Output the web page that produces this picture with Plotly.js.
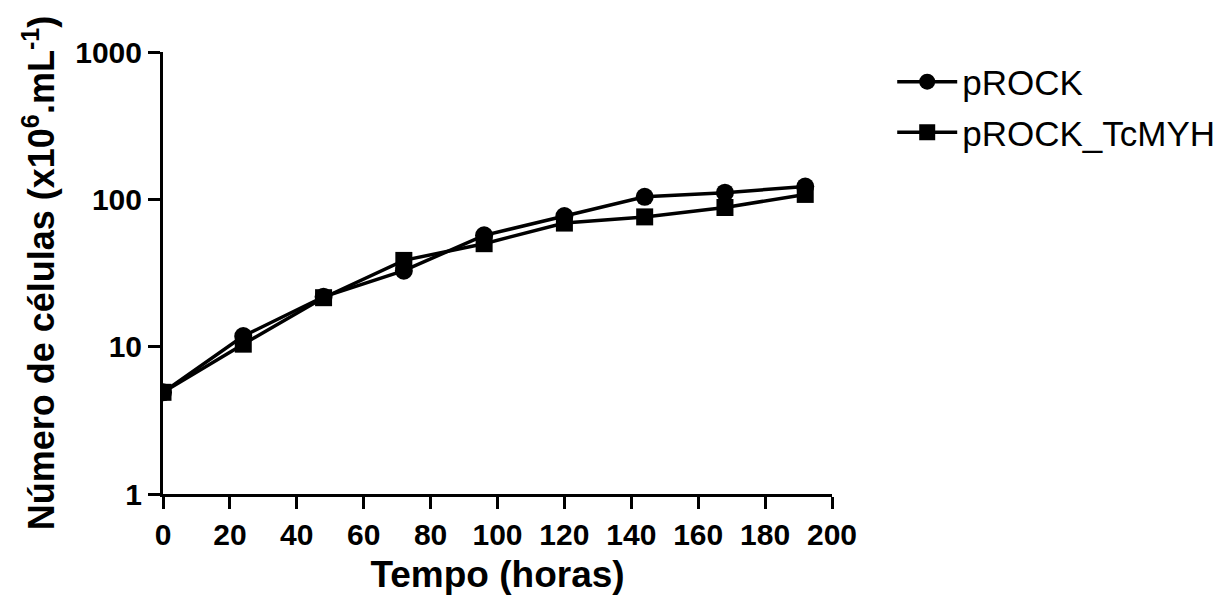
<!DOCTYPE html>
<html>
<head>
<meta charset="utf-8">
<script src="https://cdn.plot.ly/plotly-3.0.1.min.js"></script>
<style>html,body{margin:0;padding:0;background:#fff;}#chart{width:1232px;height:599px;}</style>
</head>
<body>
<div id="chart"></div>
<script>
const hours = [0, 24, 48, 72, 96, 120, 144, 168, 192];
const pROCK = [4.9, 11.8, 21.8, 32.8, 57, 77, 104, 111, 122];
const pROCK_TcMYH = [4.9, 10.4, 21.5, 38.5, 50, 69, 76, 88, 108];
const seriesNames = ["pROCK", "pROCK_TcMYH"];
const xTicks = [0, 20, 40, 60, 80, 100, 120, 140, 160, 180, 200];
const yTicks = [1, 10, 100, 1000];
const yTickText = ["1", "10", "100", "1000"];

const traces = [
  {
    x: hours, y: pROCK, name: seriesNames[0], type: "scatter", mode: "lines+markers",
    line: {color: "#000", width: 3.5},
    marker: {symbol: "circle", size: 18, color: "#000"},
    legendgroup: "a"
  },
  {
    x: hours, y: pROCK_TcMYH, name: seriesNames[1], type: "scatter", mode: "lines+markers",
    line: {color: "#000", width: 3.5},
    marker: {symbol: "square", size: 17, color: "#000"},
    legendgroup: "b"
  }
];

const axisFont = {family: "Liberation Sans, Arial, sans-serif", size: 30, color: "#000", weight: "bold"};

const layout = {
  width: 1232, height: 599,
  paper_bgcolor: "#fff", plot_bgcolor: "#fff",
  margin: {l: 163, r: 400, t: 52, b: 105},
  showlegend: true,
  legend: {
    x: 1.09, y: 0.999, xanchor: "left", yanchor: "top",
    font: {family: "Liberation Sans, Arial, sans-serif", size: 35, color: "#000"},
    traceorder: "grouped", tracegroupgap: 2, itemwidth: 60,
    bgcolor: "rgba(0,0,0,0)"
  },
  xaxis: {
    range: [0, 200], tickvals: xTicks, ticktext: xTicks.map(String),
    showgrid: false, zeroline: false, showline: true, linecolor: "#000", linewidth: 3,
    ticks: "outside", ticklen: 12, tickwidth: 3, tickcolor: "#000",
    tickfont: axisFont,
    title: {text: "<b>Tempo (horas)</b>", font: {family: "Liberation Sans, Arial, sans-serif", size: 37, color: "#000"}, standoff: 12},
    automargin: false
  },
  yaxis: {
    type: "log", range: [0, 3], tickvals: yTicks, ticktext: yTickText,
    showgrid: false, zeroline: false, showline: true, linecolor: "#000", linewidth: 3,
    ticks: "outside", ticklen: 12, tickwidth: 3, tickcolor: "#000",
    tickfont: axisFont,
    title: {text: "<b>Número de células (x10<sup>6</sup>.mL<sup>-1</sup>)</b>", font: {family: "Liberation Sans, Arial, sans-serif", size: 36, color: "#000"}, standoff: 10},
    automargin: false
  }
};

Plotly.newPlot("chart", traces, layout, {displayModeBar: false, staticPlot: true});
</script>
</body>
</html>
